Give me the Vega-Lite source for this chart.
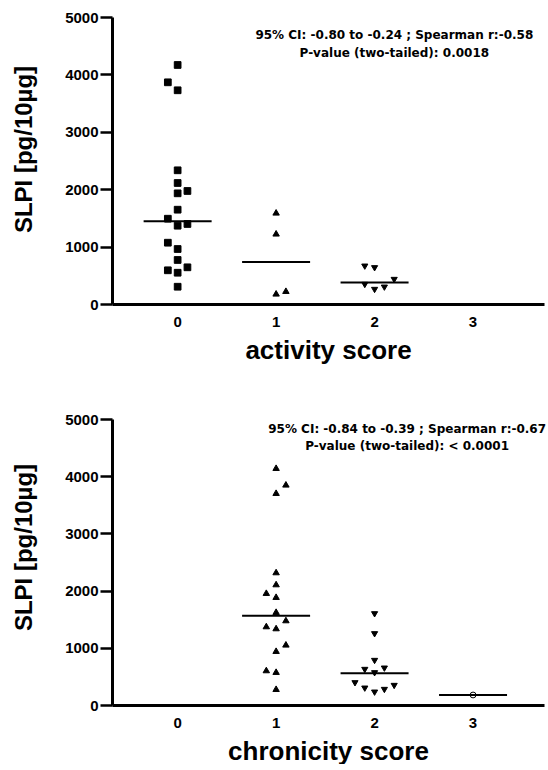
{
  "$schema": "https://vega.github.io/schema/vega-lite/v6.json",
  "background": "white",
  "padding": {"left": 12, "top": 10, "right": 0, "bottom": 0},
  "spacing": 49,
  "config": {
    "view": {"stroke": null},
    "axis": {
      "grid": false,
      "domainColor": "black",
      "domainWidth": 3,
      "tickColor": "black",
      "tickWidth": 2.5,
      "labelFont": "Liberation Sans",
      "labelFontWeight": "bold",
      "labelFontSize": 15,
      "labelColor": "black",
      "titleFont": "Liberation Sans",
      "titleFontWeight": "bold",
      "titleColor": "black"
    },
    "text": {"font": "DejaVu Sans", "fontWeight": "bold", "fontSize": 12, "color": "black"}
  },
  "datasets": {
    "activity": [
      {"score": 0, "j": 0, "value": 4164},
      {"score": 0, "j": -1, "value": 3862},
      {"score": 0, "j": 0, "value": 3723},
      {"score": 0, "j": 0, "value": 2329},
      {"score": 0, "j": 0, "value": 2108},
      {"score": 0, "j": 1, "value": 1969},
      {"score": 0, "j": 0, "value": 1928},
      {"score": 0, "j": 0, "value": 1643},
      {"score": 0, "j": -1, "value": 1486},
      {"score": 0, "j": 1, "value": 1394},
      {"score": 0, "j": 0, "value": 1364},
      {"score": 0, "j": -1, "value": 1068},
      {"score": 0, "j": 0, "value": 958},
      {"score": 0, "j": 0, "value": 767},
      {"score": 0, "j": 1, "value": 639},
      {"score": 0, "j": -1, "value": 587},
      {"score": 0, "j": 0, "value": 545},
      {"score": 0, "j": 0, "value": 301},
      {"score": 1, "j": 0, "value": 1597},
      {"score": 1, "j": 0, "value": 1232},
      {"score": 1, "j": 0, "value": 186},
      {"score": 1, "j": 1, "value": 232},
      {"score": 2, "j": -1, "value": 650},
      {"score": 2, "j": 0, "value": 622},
      {"score": 2, "j": -1, "value": 331},
      {"score": 2, "j": 0, "value": 244},
      {"score": 2, "j": 1, "value": 284},
      {"score": 2, "j": 2, "value": 418}
    ],
    "activityText": [
      {"x": 2.2, "y": 4686, "label": "95% CI: -0.80 to -0.24 ; Spearman r:-0.58"},
      {"x": 2.2, "y": 4373, "label": "P-value (two-tailed): 0.0018"}
    ],
    "chronicity": [
      {"score": 1, "j": 0, "value": 4149},
      {"score": 1, "j": 1, "value": 3858},
      {"score": 1, "j": 0, "value": 3712},
      {"score": 1, "j": 0, "value": 2325},
      {"score": 1, "j": 0, "value": 2115},
      {"score": 1, "j": -1, "value": 1964},
      {"score": 1, "j": 0, "value": 1894},
      {"score": 1, "j": 0, "value": 1632},
      {"score": 1, "j": 1, "value": 1486},
      {"score": 1, "j": -1, "value": 1381},
      {"score": 1, "j": 0, "value": 1346},
      {"score": 1, "j": 1, "value": 1061},
      {"score": 1, "j": 0, "value": 950},
      {"score": 1, "j": -1, "value": 612},
      {"score": 1, "j": 0, "value": 583},
      {"score": 1, "j": 0, "value": 285},
      {"score": 2, "j": 0, "value": 1585},
      {"score": 2, "j": 0, "value": 1236},
      {"score": 2, "j": 0, "value": 769},
      {"score": 2, "j": -1, "value": 612},
      {"score": 2, "j": 1, "value": 635},
      {"score": 2, "j": 0, "value": 554},
      {"score": 2, "j": -2, "value": 379},
      {"score": 2, "j": -1, "value": 285},
      {"score": 2, "j": 0, "value": 215},
      {"score": 2, "j": 1, "value": 262},
      {"score": 2, "j": 2, "value": 332},
      {"score": 3, "j": 0, "value": 175}
    ],
    "chronicityText": [
      {"x": 2.33, "y": 4825, "label": "95% CI: -0.84 to -0.39 ; Spearman r:-0.67"},
      {"x": 2.33, "y": 4528, "label": "P-value (two-tailed): < 0.0001"}
    ]
  },
  "vconcat": [
    {
      "width": 432,
      "height": 287,
      "resolve": {"scale": {"x": "independent"}, "axis": {"x": "independent"}},
      "layer": [
        {
          "data": {"name": "activity"},
          "mark": {"type": "point", "filled": true, "stroke": "black", "strokeWidth": 1, "opacity": 1},
          "encoding": {
            "x": {"field": "score", "type": "ordinal", "scale": {"type": "band", "domain": [0, 1, 2, 3], "paddingInner": 0, "paddingOuter": 0.1935, "align": 0.43},
                  "axis": {"labelAngle": 0, "ticks": false, "labelPadding": 10, "title": "activity score", "titleFontSize": 26, "titlePadding": 8}},
            "xOffset": {"field": "j", "type": "quantitative", "scale": {"domain": [-2, 2], "range": [29.65, 68.85]}},
            "y": {"field": "value", "type": "quantitative", "scale": {"domain": [0, 5000], "nice": false},
                  "axis": {"values": [0, 1000, 2000, 3000, 4000, 5000], "format": "d", "tickSize": 12, "labelPadding": 2, "title": "SLPI [pg/10µg]", "titleFontSize": 24, "titlePadding": 28, "titleY": 132}},
            "shape": {"field": "score", "type": "nominal", "scale": {"domain": [0, 1, 2, 3], "range": ["square", "triangle-up", "triangle-down", "circle"]}, "legend": null},
            "fill": {"field": "score", "type": "nominal", "scale": {"domain": [0, 1, 2, 3], "range": ["black", "black", "black", "white"]}, "legend": null},
            "size": {"field": "score", "type": "nominal", "scale": {"domain": [0, 1, 2, 3], "range": [45, 34, 34, 34]}, "legend": null}
          }
        },
        {
          "data": {"name": "activity"},
          "mark": {"type": "tick", "orient": "horizontal", "size": 68, "thickness": 2, "color": "black", "opacity": 1},
          "encoding": {
            "x": {"field": "score", "type": "ordinal", "scale": {"type": "band", "domain": [0, 1, 2, 3], "paddingInner": 0, "paddingOuter": 0.1935, "align": 0.43}, "axis": null},
            "y": {"aggregate": "median", "field": "value", "type": "quantitative"}
          }
        },
        {
          "data": {"name": "activityText"},
          "mark": {"type": "text", "align": "center", "baseline": "middle"},
          "encoding": {
            "x": {"field": "x", "type": "quantitative", "scale": {"domain": [-0.667, 3.72], "nice": false, "zero": false}, "axis": null},
            "y": {"field": "y", "type": "quantitative"},
            "text": {"field": "label"}
          }
        }
      ]
    },
    {
      "width": 432,
      "height": 286,
      "resolve": {"scale": {"x": "independent"}, "axis": {"x": "independent"}},
      "layer": [
        {
          "data": {"name": "chronicity"},
          "mark": {"type": "point", "filled": true, "stroke": "black", "strokeWidth": 1, "opacity": 1},
          "encoding": {
            "x": {"field": "score", "type": "ordinal", "scale": {"type": "band", "domain": [0, 1, 2, 3], "paddingInner": 0, "paddingOuter": 0.1935, "align": 0.43},
                  "axis": {"labelAngle": 0, "ticks": false, "labelPadding": 10, "title": "chronicity score", "titleFontSize": 26, "titlePadding": 8}},
            "xOffset": {"field": "j", "type": "quantitative", "scale": {"domain": [-2, 2], "range": [29.65, 68.85]}},
            "y": {"field": "value", "type": "quantitative", "scale": {"domain": [0, 5000], "nice": false},
                  "axis": {"values": [0, 1000, 2000, 3000, 4000, 5000], "format": "d", "tickSize": 12, "labelPadding": 2, "title": "SLPI [pg/10µg]", "titleFontSize": 24, "titlePadding": 28, "titleY": 128}},
            "shape": {"field": "score", "type": "nominal", "scale": {"domain": [0, 1, 2, 3], "range": ["square", "triangle-up", "triangle-down", "circle"]}, "legend": null},
            "fill": {"field": "score", "type": "nominal", "scale": {"domain": [0, 1, 2, 3], "range": ["black", "black", "black", "white"]}, "legend": null},
            "size": {"field": "score", "type": "nominal", "scale": {"domain": [0, 1, 2, 3], "range": [45, 34, 34, 34]}, "legend": null}
          }
        },
        {
          "data": {"name": "chronicity"},
          "mark": {"type": "tick", "orient": "horizontal", "size": 68, "thickness": 2, "color": "black", "opacity": 1},
          "encoding": {
            "x": {"field": "score", "type": "ordinal", "scale": {"type": "band", "domain": [0, 1, 2, 3], "paddingInner": 0, "paddingOuter": 0.1935, "align": 0.43}, "axis": null},
            "y": {"aggregate": "median", "field": "value", "type": "quantitative"}
          }
        },
        {
          "data": {"name": "chronicityText"},
          "mark": {"type": "text", "align": "center", "baseline": "middle"},
          "encoding": {
            "x": {"field": "x", "type": "quantitative", "scale": {"domain": [-0.667, 3.72], "nice": false, "zero": false}, "axis": null},
            "y": {"field": "y", "type": "quantitative"},
            "text": {"field": "label"}
          }
        }
      ]
    }
  ]
}
